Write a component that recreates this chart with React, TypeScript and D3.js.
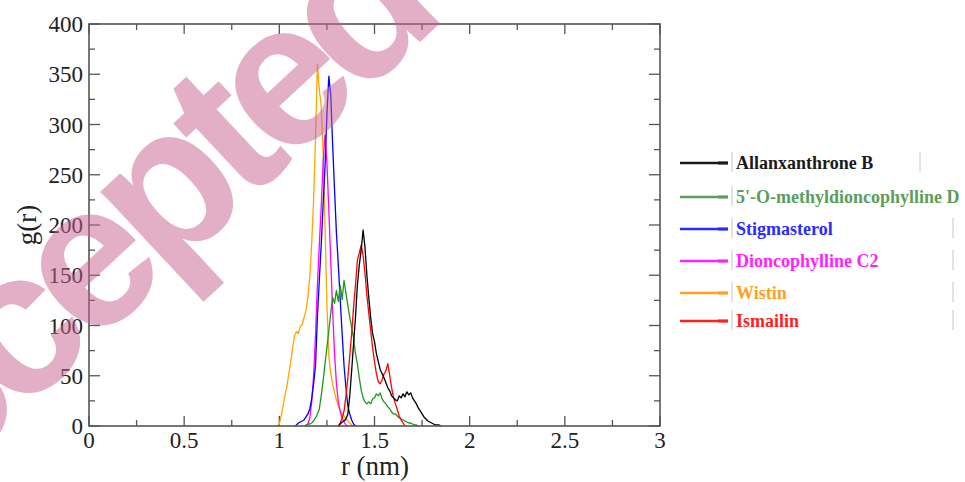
import React from "react";
import * as d3 from "d3";

// g(r) samples every 0.01 nm, starting at rStart
const STEP = 0.01;

const allanxanthrone = [
  0, 2, 4, 5, 7, 12, 30, 55, 82, 108, 140, 160, 175, 195, 178, 150, 128, 108, 92, 84,
  72, 64, 56, 52, 48, 43, 38, 35, 30, 28, 26, 25, 30, 28, 32, 29, 34, 31, 33, 28,
  25, 22, 18, 15, 12, 9, 7, 5, 4, 3, 2, 1, 1, 1, 0,
];
const methyldioncophylline = [
  0, 1, 2, 2, 3, 5, 8, 12, 17, 30, 45, 62, 78, 95, 112, 128, 122, 135, 124, 140,
  126, 145, 132, 120, 108, 98, 88, 72, 62, 48, 36, 28, 24, 22, 24, 22, 27, 28, 32, 30,
  33, 27, 24, 22, 19, 17, 14, 12, 12, 10, 8, 7, 6, 5, 4, 3, 3, 2, 1, 1, 0,
];
const stigmasterol = [
  0, 1, 3, 4, 5, 6, 9, 12, 17, 27, 42, 60, 108, 145, 180, 220, 258, 310, 348, 330,
  280, 235, 192, 160, 125, 92, 60, 38, 20, 12, 6, 2, 0,
];
const dioncophylline = [
  0, 2, 8, 24, 50, 90, 140, 180, 218, 262, 290, 262, 215, 165, 115, 72, 42, 24, 14, 8,
  4, 1, 0,
];
const wistin = [
  0, 2, 10, 20, 31, 40, 52, 64, 78, 90, 94, 92, 99, 101, 108, 115, 128, 148, 182, 225,
  285, 360, 335, 318, 272, 200, 120, 70, 52, 42, 33, 26, 20, 16, 12, 10, 7, 5, 3, 1, 0,
];
const ismailin = [
  0, 3, 8, 15, 30, 48, 70, 92, 118, 140, 165, 172, 180, 170, 152, 130, 112, 95, 78, 64,
  52, 44, 42, 46, 52, 55, 62, 50, 38, 28, 22, 16, 10, 6, 3, 0,
];

const seriesNames = [
  "Allanxanthrone B",
  "5'-O-methyldioncophylline D",
  "Stigmasterol",
  "Dioncophylline C2",
  "Wistin",
  "Ismailin",
];
const seriesStart = [1.31, 1.13, 1.08, 1.14, 0.99, 1.31];
const seriesValues = [allanxanthrone, methyldioncophylline, stigmasterol, dioncophylline, wistin, ismailin];
const lineColors = ["#000000", "#1a9a1a", "#0000ff", "#ff00ff", "#ffa500", "#ff0000"];
const legendColors = ["#1a1a1a", "#5a9e5a", "#2b2bff", "#ff22ff", "#ffa020", "#ff2020"];
// draw order (back to front)
const drawOrder = [4, 3, 2, 1, 5, 0];

const xTicks = [0, 0.5, 1, 1.5, 2, 2.5, 3];
const xTickLabels = ["0", "0.5", "1", "1.5", "2", "2.5", "3"];
const yTicks = [0, 50, 100, 150, 200, 250, 300, 350, 400];

const W = 965;
const H = 482;
const plot = { left: 89, right: 660, top: 24, bottom: 426 };

export default function App() {
  const x = d3.scaleLinear().domain([0, 3]).range([plot.left, plot.right]);
  const y = d3.scaleLinear().domain([0, 400]).range([plot.bottom, plot.top]);

  const line = d3
    .line<[number, number]>()
    .x((d) => x(d[0]))
    .y((d) => y(d[1]));

  const minorX = d3.range(0.25, 3, 0.5);
  const minorY = d3.range(25, 400, 50);
  const frame = "#555";

  const legendRows = [163, 197, 229, 261, 293, 321];
  const rightBars = [920, null, 953, 953, 953, 953];

  return (
    <svg width={W} height={H} style={{ position: "absolute", left: 0, top: 0, background: "#fff" }}>
      <rect width={W} height={H} fill="#fff" />

      {/* ticks, inward on all four sides */}
      <g stroke={frame} strokeWidth={1.3}>
        {xTicks.map((t) => (
          <g key={"xt" + t}>
            <line x1={x(t)} x2={x(t)} y1={plot.bottom} y2={plot.bottom - 10} />
            <line x1={x(t)} x2={x(t)} y1={plot.top} y2={plot.top + 10} />
          </g>
        ))}
        {minorX.map((t) => (
          <g key={"xm" + t}>
            <line x1={x(t)} x2={x(t)} y1={plot.bottom} y2={plot.bottom - 6} />
            <line x1={x(t)} x2={x(t)} y1={plot.top} y2={plot.top + 6} />
          </g>
        ))}
        {yTicks.map((t) => (
          <g key={"yt" + t}>
            <line x1={plot.left} x2={plot.left + 11} y1={y(t)} y2={y(t)} />
            <line x1={plot.right} x2={plot.right - 11} y1={y(t)} y2={y(t)} />
          </g>
        ))}
        {minorY.map((t) => (
          <g key={"ym" + t}>
            <line x1={plot.left} x2={plot.left + 6} y1={y(t)} y2={y(t)} />
            <line x1={plot.right} x2={plot.right - 6} y1={y(t)} y2={y(t)} />
          </g>
        ))}
      </g>

      {/* curves */}
      <g fill="none" strokeWidth={1.3} strokeLinejoin="round">
        {drawOrder.map((i) => {
          const pts: [number, number][] = seriesValues[i].map((v, k) => [seriesStart[i] + k * STEP, v]);
          return <path key={i} d={line(pts) || ""} stroke={lineColors[i]} />;
        })}
      </g>

      <rect
        x={plot.left}
        y={plot.top}
        width={plot.right - plot.left}
        height={plot.bottom - plot.top}
        fill="none"
        stroke={frame}
        strokeWidth={1.6}
      />

      {/* tick labels */}
      <g fontFamily="'Liberation Serif', 'Times New Roman', serif" fontSize={23} fill="#222">
        {yTicks.map((t) => (
          <text key={"yl" + t} x={plot.left - 6} y={y(t) + 8} textAnchor="end">
            {t}
          </text>
        ))}
        {xTicks.map((t, i) => (
          <text key={"xl" + t} x={x(t)} y={plot.bottom + 22} textAnchor="middle">
            {xTickLabels[i]}
          </text>
        ))}
      </g>
      <text
        x={375}
        y={475}
        textAnchor="middle"
        fontFamily="'Liberation Serif', serif"
        fontSize={27}
        fill="#222"
      >
        r (nm)
      </text>
      <text
        transform="translate(36,225) rotate(-90)"
        textAnchor="middle"
        fontFamily="'Liberation Serif', serif"
        fontSize={27}
        fill="#222"
      >
        g(r)
      </text>

      {/* legend */}
      <g fontFamily="'Liberation Serif', 'Times New Roman', serif" fontWeight="bold" fontSize={18}>
        {seriesNames.map((name, i) => {
          const ly = legendRows[i];
          const rb = rightBars[i];
          return (
            <g key={name}>
              <line x1={680} x2={728} y1={ly} y2={ly} stroke={legendColors[i]} strokeWidth={2.5} />
              <line x1={718} x2={728} y1={ly} y2={ly} stroke={legendColors[i]} strokeWidth={3.2} opacity={0.8} />
              <line x1={732} x2={732} y1={ly - 11} y2={ly + 9} stroke="#c8c8c8" strokeWidth={1} />
              {rb !== null && <line x1={rb} x2={rb} y1={ly - 11} y2={ly + 9} stroke="#c8c8c8" strokeWidth={1} />}
              <text x={736} y={ly + 6} fill={legendColors[i]}>
                {name}
              </text>
            </g>
          );
        })}
      </g>

      {/* watermark */}
      <text
        transform="translate(143,300) rotate(-43)"
        textAnchor="middle"
        fontFamily="'Liberation Sans', Arial, sans-serif"
        fontWeight="bold"
        fontSize={205}
        letterSpacing={-14}
        fill="#c8628f"
        opacity={0.5}
      >
        Accepted
      </text>
    </svg>
  );
}
